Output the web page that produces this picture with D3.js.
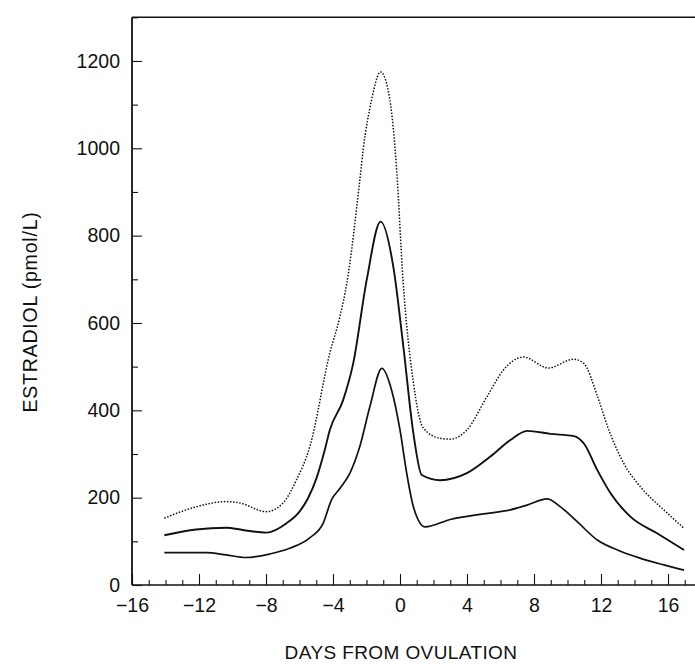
<!DOCTYPE html>
<html>
<head>
<meta charset="utf-8">
<script src="https://cdn.jsdelivr.net/npm/d3@7"></script>
<style>
  html, body { margin: 0; padding: 0; background: #fff; }
  svg { display: block; }
  text { font-family: "Liberation Sans", Arial, sans-serif; fill: #111; }
</style>
</head>
<body>
<div id="chart"></div>
<script>
// ---- Data ----
const xTicks = [-16, -12, -8, -4, 0, 4, 8, 12, 16];
const yTicks = [0, 200, 400, 600, 800, 1000, 1200];
const xLabel = "DAYS FROM OVULATION";
const yLabel = "ESTRADIOL (pmol/L)";

// upper (dotted) curve: [day, pmol/L]
const upperDays   = [-14.07, -12.17, -10.38, -9.58, -7.98, -7.0, -6.19, -5.39, -4.19, -3.59, -3.17, -2.4, -2.2, -1.7, -1.16, -0.6, -0.2, 0.18, 0.78, 1.38, 2.4, 3.0, 3.99, 5.19, 6.17, 7.37, 8.86, 10.36, 10.96, 11.8, 12.4, 13.35, 14.37, 15.75, 16.95];
const upperValues = [153, 179, 191, 188, 168, 187, 240, 316, 531, 614, 692, 927, 996, 1110, 1175, 1110, 950, 698, 469, 360, 336, 334, 355, 431, 492, 522, 497, 517, 508, 431, 362, 279, 224, 172, 130];

// middle (solid) curve
const middleDays   = [-14.07, -12.17, -10.38, -9.38, -7.98, -6.79, -6.0, -5.5, -5.0, -4.5, -4.19, -3.39, -2.79, -1.99, -1.16, -0.4, 0.2, 0.8, 1.3, 2.4, 3.99, 5.39, 6.59, 7.59, 8.98, 10.38, 10.98, 11.78, 12.57, 13.77, 15.37, 16.96];
const middleValues = [114, 127, 131, 126, 120, 141, 168, 198, 243, 308, 355, 424, 508, 698, 832, 729, 546, 347, 252, 240, 256, 294, 332, 353, 346, 341, 324, 263, 210, 156, 118, 80];

// lower (solid) curve
const lowerDays   = [-14.07, -11.57, -10.38, -9.18, -7.78, -6.59, -5.39, -4.59, -4.09, -3.59, -2.99, -2.4, -1.8, -1.08, -0.5, 0.0, 0.4, 0.8, 1.5, 3.0, 5.0, 6.59, 7.59, 8.78, 9.58, 10.58, 11.78, 12.98, 14.37, 15.75, 16.96];
const lowerValues = [74, 74, 69, 63, 71, 84, 108, 141, 195, 221, 256, 317, 408, 496, 446, 355, 256, 179, 133, 150, 163, 172, 183, 197, 179, 145, 103, 80, 61, 46, 34];

// ---- Layout ----
const W = 695, H = 664;
const svg = d3.select("#chart").append("svg").attr("width", W).attr("height", H);

const x = d3.scaleLinear().domain([-16, 0]).range([132, 400]);
const y = d3.scaleLinear().domain([0, 1300]).range([585, 17.3]);
const xRight = x(18.2);

// frame: left + top lines
svg.append("line").attr("x1", x(-16)).attr("x2", x(-16)).attr("y1", y(0)).attr("y2", y(1300))
  .attr("stroke", "#111").attr("stroke-width", 1.8);
svg.append("line").attr("x1", x(-16)).attr("x2", xRight).attr("y1", y(1300)).attr("y2", y(1300))
  .attr("stroke", "#111").attr("stroke-width", 1.6);

// X axis (ticks inward)
const xMinor = d3.range(-16, 18.01, 1);
const gx = svg.append("g").attr("transform", `translate(0,${y(0)})`)
  .call(d3.axisBottom(x).tickValues(xMinor).tickSize(-5).tickFormat(""));
gx.select(".domain").attr("d", `M${x(-16)},0H${xRight}`).attr("stroke", "#111").attr("stroke-width", 1.6);
gx.selectAll(".tick line").attr("stroke", "#111").attr("stroke-width", 1.1)
  .attr("y2", d => (d % 4 === 0 ? -11 : -5));

const gxl = svg.append("g").attr("transform", `translate(0,${y(0)})`)
  .call(d3.axisBottom(x).tickValues(xTicks).tickSize(0).tickPadding(13)
    .tickFormat(d => (d < 0 ? "\u2212" + Math.abs(d) : String(d))));
gxl.select(".domain").remove();
gxl.selectAll("text").style("font-size", "19.5px").attr("fill", "#111")
  .style("font-family", "'Liberation Sans', Arial, sans-serif");

// Y axis (ticks inward)
const yMinor = d3.range(0, 1301, 100);
const gy = svg.append("g").attr("transform", `translate(${x(-16)},0)`)
  .call(d3.axisLeft(y).tickValues(yMinor).tickSize(-6).tickFormat(""));
gy.select(".domain").remove();
gy.selectAll(".tick line").attr("stroke", "#111").attr("stroke-width", 1.1)
  .attr("x2", d => (d % 200 === 0 ? 10 : 6));

const gyl = svg.append("g").attr("transform", `translate(${x(-16)},0)`)
  .call(d3.axisLeft(y).tickValues(yTicks).tickSize(0).tickPadding(12).tickFormat(d3.format("d")));
gyl.select(".domain").remove();
gyl.selectAll("text").style("font-size", "19.5px").attr("fill", "#111")
  .style("font-family", "'Liberation Sans', Arial, sans-serif");

// Axis titles
svg.append("text").attr("x", 401).attr("y", 659)
  .attr("text-anchor", "middle").style("font-size", "19px").style("letter-spacing", "0.4px").text(xLabel);
svg.append("text").attr("transform", `translate(37,${312}) rotate(-90)`)
  .attr("text-anchor", "middle").style("font-size", "19.5px").style("letter-spacing", "0.8px").text(yLabel);

// Curves
const line = d3.line().x(d => x(d[0])).y(d => y(d[1])).curve(d3.curveMonotoneX);
const zip = (a, b) => a.map((d, i) => [d, b[i]]);

svg.append("path").datum(zip(upperDays, upperValues)).attr("d", line)
  .attr("fill", "none").attr("stroke", "#111").attr("stroke-width", 1.5)
  .attr("stroke-dasharray", "1.5,1.6");
svg.append("path").datum(zip(middleDays, middleValues)).attr("d", line)
  .attr("fill", "none").attr("stroke", "#111").attr("stroke-width", 1.9);
svg.append("path").datum(zip(lowerDays, lowerValues)).attr("d", line)
  .attr("fill", "none").attr("stroke", "#111").attr("stroke-width", 1.7);
</script>
</body>
</html>
